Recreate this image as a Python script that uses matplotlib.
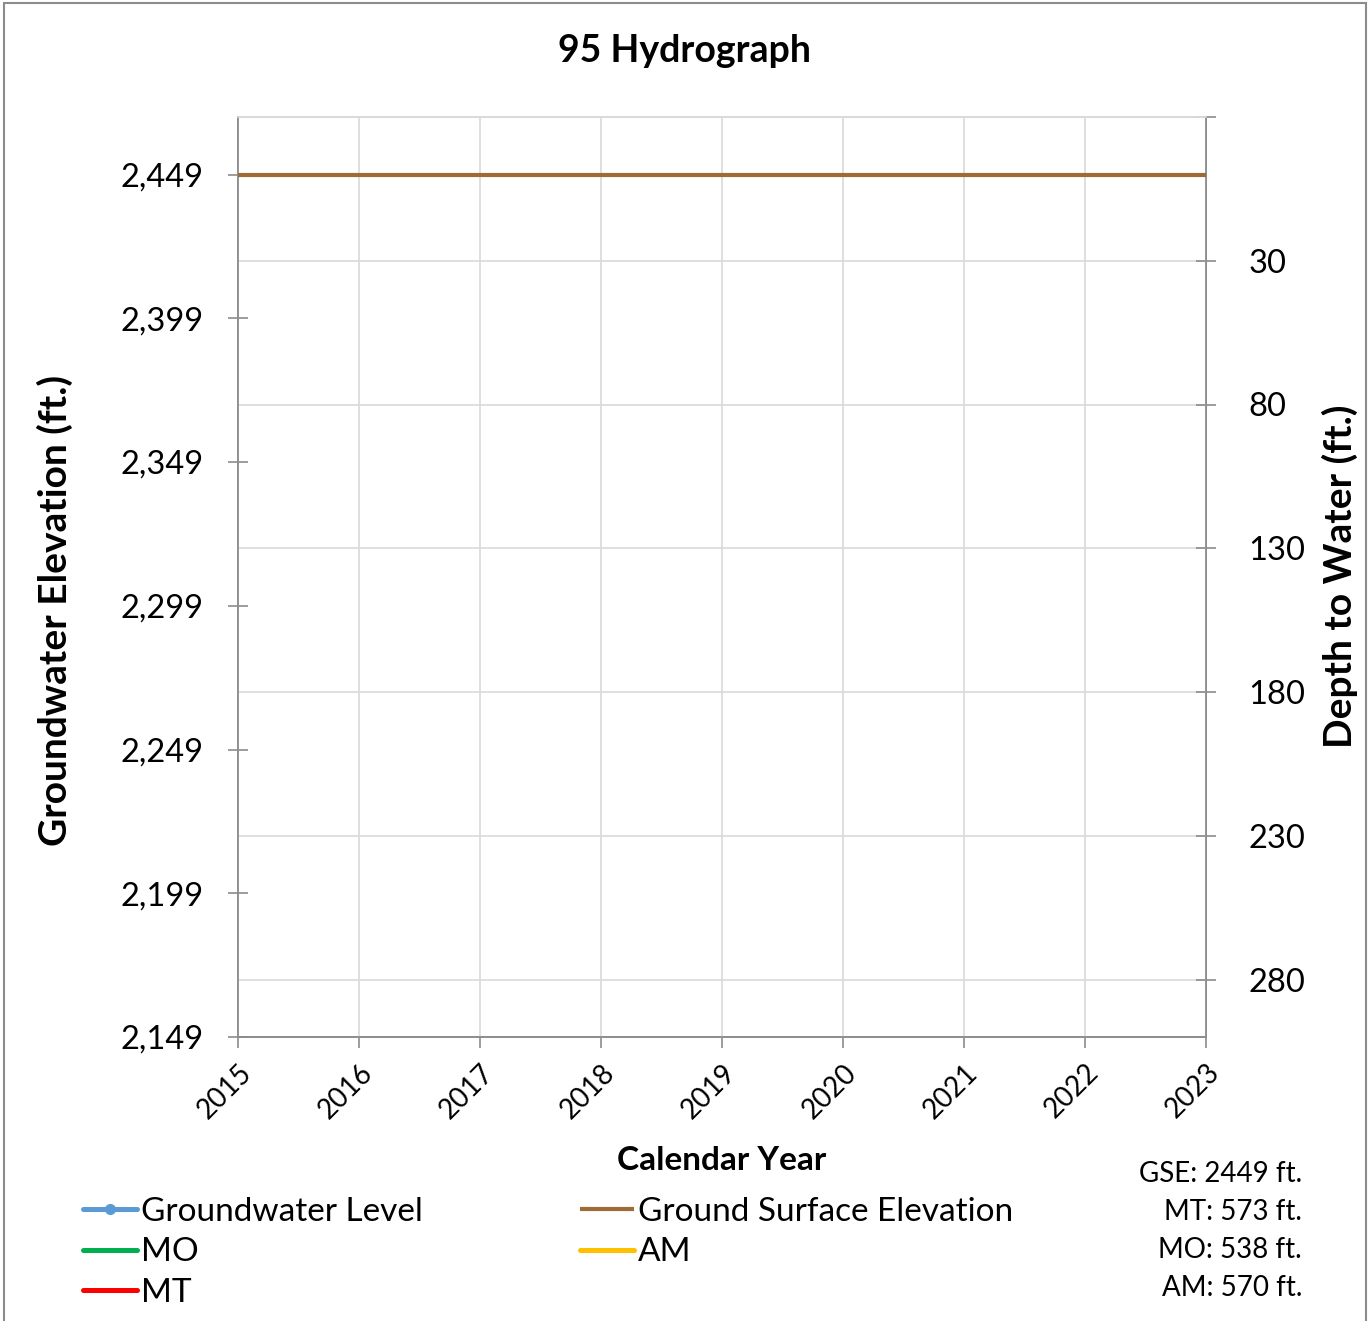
import matplotlib
matplotlib.use("Agg")
import matplotlib.pyplot as plt
from matplotlib.patches import Rectangle
from matplotlib.transforms import ScaledTranslation

plt.rcParams['font.family'] = ['Lato', 'DejaVu Sans']

# ---- data ----
years = [2015, 2016, 2017, 2018, 2019, 2020, 2021, 2022, 2023]
gse = 2449
mt_depth = 573
mo_depth = 538
am_depth = 570
gw_years = []          # no groundwater readings recorded
gw_levels = []

elev_ticks = [2149, 2199, 2249, 2299, 2349, 2399, 2449]
depth_ticks = [-20, 30, 80, 130, 180, 230, 280]
elev_min, elev_max = 2149, 2469

W, H = 1371, 1321
fig = plt.figure(figsize=(W / 100, H / 100), dpi=100)
ax = fig.add_axes([238 / W, 1 - 1037 / H, (1206 - 238) / W, (1037 - 117) / H])

c_gw = '#5B9BD5'
c_gse = '#9E6B37'
c_mo = '#00B050'
c_mt = '#FF0000'
c_am = '#FFC000'
spine_c = '#8C8C8C'
grid_c = '#D9D9D9'

x0, x1 = years[0], years[-1]
style = dict(lw=3.6, solid_capstyle='round')
ax.plot(gw_years, gw_levels, color=c_gw, marker='o', ms=7, label='Groundwater Level', **style)
ax.plot([x0, x1], [gse - mo_depth] * 2, color=c_mo, label='MO', **style)
ax.plot([x0, x1], [gse - mt_depth] * 2, color=c_mt, label='MT', **style)
ax.plot([x0, x1], [gse, gse], color=c_gse, lw=3, solid_capstyle='butt',
        label='Ground Surface Elevation', zorder=5)
ax.plot([x0, x1], [gse - am_depth] * 2, color=c_am, label='AM', **style)

ax.set_xlim(x0, x1)
ax.set_ylim(elev_min, elev_max)
ax.set_xticks(years)
ax.set_xticklabels([str(y) for y in years], rotation=45, ha='right', va='top',
                   rotation_mode='anchor', fontsize=20)
shift = ScaledTranslation(-7 / 100, 0, fig.dpi_scale_trans)
for lbl in ax.get_xticklabels():
    lbl.set_transform(lbl.get_transform() + shift)
ax.set_yticks(elev_ticks)
ax.set_yticklabels([f"{v:,}" for v in elev_ticks], fontsize=23.5)
ax.tick_params(axis='y', direction='inout', length=15, width=1.2, color=spine_c, pad=17)
ax.tick_params(axis='x', direction='out', length=8, width=1.2, color=spine_c, pad=8)
ax.grid(axis='x', color=grid_c, lw=1.2)

# secondary axis: depth below ground surface
ax2 = ax.twinx()
ax2.set_ylim(gse - elev_min, gse - elev_max)
ax2.set_yticks(depth_ticks)
ax2.set_yticklabels(['' if d < 0 else str(d) for d in depth_ticks], fontsize=23.5)
ax2.tick_params(axis='y', direction='inout', length=15, width=1.2, color=spine_c, pad=23)
ax2.grid(axis='y', color=grid_c, lw=1.2)
ax2.set_zorder(ax.get_zorder() - 1)
ax.patch.set_visible(False)

for a in (ax, ax2):
    a.spines['top'].set_color(grid_c)
    a.spines['left'].set_color(spine_c)
    a.spines['right'].set_color(spine_c)
    a.spines['bottom'].set_color(spine_c)
    for s in a.spines.values():
        s.set_linewidth(1.2)

fig.text(684 / W, 1 - 51 / H, '95 Hydrograph', ha='center', va='center',
         fontsize=27, fontweight='bold')
fig.text(722 / W, 1 - 1161 / H, 'Calendar Year', ha='center', va='center',
         fontsize=24, fontweight='bold')
fig.text(55 / W, 1 - 610 / H, 'Groundwater Elevation (ft.)', ha='center', va='center',
         rotation=90, fontsize=28, fontweight='bold')
fig.text(1340 / W, 1 - 576 / H, 'Depth to Water (ft.)', ha='center', va='center',
         rotation=90, fontsize=28, fontweight='bold')

notes = [f"GSE: {gse} ft.", f"MT: {mt_depth} ft.", f"MO: {mo_depth} ft.", f"AM: {am_depth} ft."]
for i, t in enumerate(notes):
    fig.text(1302 / W, 1 - (1174 + 38 * i) / H, t, ha='right', va='center', fontsize=20)

handles, labels = ax.get_legend_handles_labels()
fig.legend(handles, labels, ncol=2, loc='upper left',
           bbox_to_anchor=(83 / W, 1 - 1197 / H), frameon=False, fontsize=24,
           handlelength=1.62, handletextpad=0.12, labelspacing=0.31, columnspacing=4.7,
           borderpad=0, borderaxespad=0)

fig.patches.append(Rectangle((4 / W, -0.01), (1366 - 4) / W, 1 - 3 / H + 0.01,
                             transform=fig.transFigure, fill=False,
                             edgecolor='#8C8C8C', lw=1.5))

fig.savefig('out.png', dpi=100, facecolor='white')
